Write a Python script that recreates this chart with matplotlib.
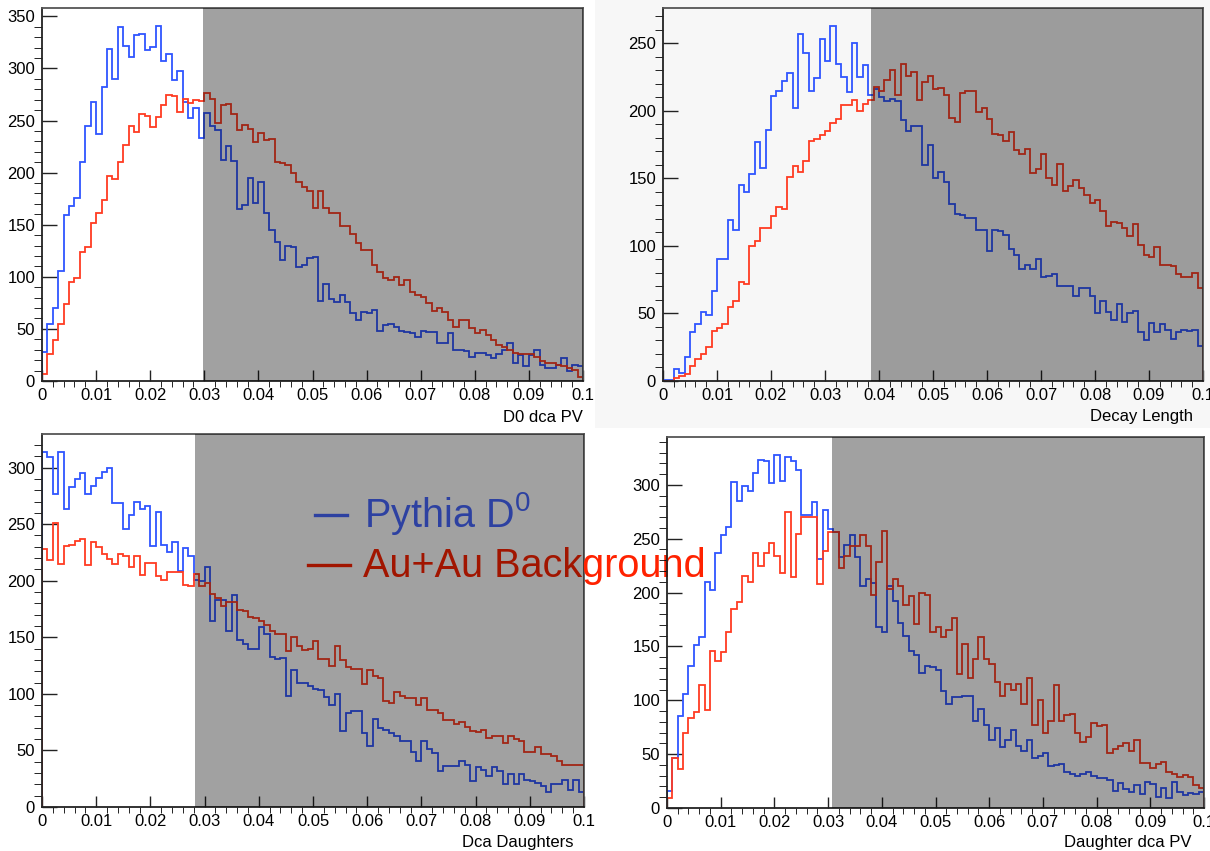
import numpy as np
import matplotlib
matplotlib.use("Agg")
import matplotlib.pyplot as plt
from matplotlib.patches import Rectangle
from matplotlib.lines import Line2D
from matplotlib.ticker import MultipleLocator, FuncFormatter
import matplotlib.transforms as mtransforms

plt.rcParams['font.family'] = ['Liberation Sans', 'DejaVu Sans']

# 100 bins from 0 to 0.1 in every panel
bin_edges = np.linspace(0.0, 0.1, 101)

# --- D0 dca PV ---
dca_pv_pythia = [
    28, 55, 70, 106, 159, 168, 176, 210, 245, 268,
    237, 282, 319, 290, 340, 322, 311, 332, 333, 318,
    321, 341, 307, 314, 289, 298, 268, 252, 262, 233,
    257, 245, 241, 212, 226, 211, 165, 169, 195, 171,
    191, 161, 145, 133, 116, 130, 129, 109, 111, 118,
    119, 77, 93, 79, 76, 83, 76, 65, 59, 66,
    65, 68, 48, 54, 55, 52, 48, 47, 46, 42,
    48, 47, 47, 36, 36, 46, 30, 30, 29, 23,
    27, 27, 25, 22, 26, 30, 36, 17, 25, 14,
    25, 30, 15, 12, 12, 15, 22, 10, 15, 14]
dca_pv_auau = [
    7, 26, 39, 55, 74, 95, 99, 124, 129, 152,
    161, 174, 197, 194, 210, 227, 245, 239, 256, 254,
    244, 253, 265, 275, 274, 258, 271, 267, 270, 269,
    276, 271, 248, 265, 266, 256, 241, 246, 242, 229,
    238, 231, 232, 210, 209, 207, 200, 191, 186, 182,
    166, 182, 166, 161, 161, 149, 149, 141, 132, 126,
    126, 111, 105, 99, 97, 100, 92, 97, 85, 83,
    81, 75, 67, 70, 66, 59, 52, 59, 59, 51,
    46, 49, 44, 39, 35, 33, 30, 27, 26, 26,
    26, 23, 19, 17, 17, 15, 14, 12, 11, 4]

# --- Decay Length ---
decay_pythia = [
    1, 1, 9, 6, 18, 36, 42, 51, 49, 67,
    90, 90, 119, 112, 145, 140, 153, 177, 158, 186,
    211, 215, 222, 228, 202, 257, 243, 215, 224, 253,
    237, 263, 235, 225, 214, 250, 225, 234, 212, 216,
    210, 207, 209, 207, 193, 185, 189, 189, 160, 175,
    150, 155, 147, 131, 124, 123, 121, 121, 112, 112,
    96, 112, 111, 108, 98, 93, 83, 86, 83, 90,
    77, 78, 79, 70, 70, 70, 63, 69, 69, 63,
    50, 59, 51, 45, 57, 44, 50, 52, 36, 30,
    43, 36, 42, 38, 31, 36, 38, 37, 38, 26]
decay_auau = [
    0, 0, 2, 4, 5, 11, 16, 20, 25, 37,
    39, 42, 55, 59, 73, 72, 100, 104, 113, 113,
    122, 129, 127, 151, 159, 155, 163, 178, 179, 182,
    185, 191, 194, 204, 204, 208, 200, 205, 208, 218,
    215, 223, 230, 212, 235, 226, 229, 208, 221, 226,
    216, 217, 212, 195, 192, 213, 215, 215, 199, 202,
    194, 183, 182, 178, 184, 171, 168, 172, 154, 157,
    168, 150, 145, 161, 141, 144, 149, 143, 138, 132,
    134, 126, 115, 118, 117, 113, 107, 116, 101, 93,
    92, 99, 86, 86, 85, 79, 77, 77, 80, 69]

# --- Dca Daughters ---
dca_dau_pythia = [
    314, 309, 277, 314, 263, 283, 290, 295, 277, 284,
    291, 296, 300, 269, 269, 246, 258, 270, 263, 266,
    231, 261, 232, 225, 234, 209, 229, 222, 201, 200,
    212, 164, 183, 183, 156, 187, 148, 144, 140, 140,
    159, 153, 133, 131, 132, 98, 121, 110, 110, 107,
    104, 103, 97, 90, 100, 67, 83, 85, 85, 65,
    54, 78, 70, 68, 65, 63, 58, 58, 49, 41,
    58, 51, 48, 32, 36, 36, 36, 41, 37, 23,
    35, 33, 27, 35, 32, 20, 29, 20, 29, 24,
    23, 21, 19, 13, 20, 20, 24, 15, 24, 13]
dca_dau_auau = [
    228, 218, 251, 215, 231, 232, 235, 237, 214, 234,
    230, 224, 219, 215, 224, 222, 212, 222, 205, 216,
    216, 204, 201, 208, 208, 208, 196, 195, 206, 195,
    198, 188, 185, 178, 181, 181, 174, 173, 168, 167,
    164, 161, 156, 153, 153, 138, 150, 142, 139, 140,
    147, 131, 131, 125, 142, 130, 124, 122, 122, 109,
    121, 116, 114, 94, 92, 102, 98, 96, 96, 90,
    96, 86, 86, 83, 77, 77, 73, 75, 71, 67,
    66, 68, 61, 63, 63, 57, 63, 60, 58, 49,
    49, 53, 47, 47, 45, 41, 37, 37, 37, 37]

# --- Daughter dca PV ---
dau_pv_pythia = [
    16, 46, 85, 106, 132, 151, 159, 210, 202, 237,
    253, 261, 303, 285, 299, 294, 311, 323, 322, 302,
    328, 304, 326, 322, 314, 272, 272, 284, 231, 277,
    259, 256, 233, 244, 253, 233, 206, 213, 209, 168,
    163, 206, 192, 172, 160, 146, 142, 125, 132, 131,
    128, 109, 97, 103, 103, 104, 104, 81, 92, 77,
    63, 74, 57, 63, 72, 58, 53, 63, 46, 48,
    51, 39, 40, 41, 33, 32, 30, 32, 33, 30,
    28, 28, 26, 16, 23, 18, 15, 21, 13, 24,
    22, 10, 19, 9, 24, 15, 12, 14, 13, 15]
dau_pv_auau = [
    9, 46, 36, 70, 84, 89, 114, 91, 146, 136,
    145, 163, 185, 191, 215, 210, 237, 225, 237, 246,
    234, 218, 275, 214, 254, 270, 270, 270, 208, 239,
    256, 256, 223, 234, 243, 243, 253, 243, 198, 228,
    257, 203, 213, 206, 188, 197, 171, 200, 198, 163,
    168, 159, 165, 176, 124, 152, 121, 138, 159, 138,
    134, 117, 104, 115, 110, 115, 97, 121, 77, 100,
    70, 81, 114, 81, 86, 87, 70, 61, 66, 79,
    76, 77, 51, 55, 58, 60, 53, 63, 42, 42,
    37, 41, 43, 33, 32, 29, 31, 29, 21, 19]

panel_titles = ['D0 dca PV', 'Decay Length', 'Dca Daughters', 'Daughter dca PV']
cut_values = [0.0297, 0.0385, 0.0283, 0.0307]
pythia_sets = [dca_pv_pythia, decay_pythia, dca_dau_pythia, dau_pv_pythia]
auau_sets = [dca_pv_auau, decay_auau, dca_dau_auau, dau_pv_auau]

legend_labels = [r'Pythia D$^\mathregular{0}$', 'Au+Au Background']

BLUE = '#2f55ff'
RED = '#ff3b22'

W, H = 1210, 851
fig = plt.figure(figsize=(W / 100, H / 100), dpi=100)


def fbox(l, t, r, b):
    return [l / W, 1 - b / H, (r - l) / W, (b - t) / H]


# pixel boxes of the four frames (left, top, right, bottom)
boxes = [(42, 8, 583, 381), (663, 8, 1203, 381),
         (42, 434, 584, 807), (667, 437, 1204, 808)]
label_pos = [(583, 418), (1193, 417), (573, 843), (1192, 843)]

# light grey pad behind the top right panel
fig.patches.append(Rectangle((595 / W, 1 - 428 / H), (W - 595) / W, 428 / H,
                             transform=fig.transFigure, facecolor='#f7f7f7',
                             edgecolor='none', zorder=-1))

axes = []
for i in range(4):
    ax = fig.add_axes(fbox(*boxes[i]))
    axes.append(ax)
    if i == 1:
        ax.set_facecolor('#f7f7f7')
    elif i == 3:
        ax.set_facecolor('none')

    sig = np.array(pythia_sets[i])
    bkg = np.array(auau_sets[i])
    ax.stairs(sig, bin_edges, baseline=0, color=BLUE, lw=1.3, zorder=2)
    ax.stairs(bkg, bin_edges, baseline=0, color=RED, lw=1.3, zorder=2)

    ax.set_xlim(0, 0.1)
    ax.set_ylim(0, 1.05 * max(sig.max(), bkg.max()))

    # rejected region, darkened
    trans = mtransforms.blended_transform_factory(ax.transData, ax.transAxes)
    ax.add_patch(Rectangle((cut_values[i], 0), 0.1 - cut_values[i], 1.0,
                           transform=trans, facecolor='black', alpha=0.37,
                           edgecolor='none', zorder=5, clip_on=False))

    ax.xaxis.set_major_locator(MultipleLocator(0.01))
    ax.xaxis.set_minor_locator(MultipleLocator(0.002))
    ax.yaxis.set_major_locator(MultipleLocator(50))
    ax.yaxis.set_minor_locator(MultipleLocator(10))
    ax.xaxis.set_major_formatter(FuncFormatter(
        lambda v, p: '0' if abs(v) < 1e-9 else ('%.2f' % v).rstrip('0')))
    ax.yaxis.set_major_formatter(FuncFormatter(lambda v, p: '%d' % round(v)))

    ax.tick_params(direction='in', colors='#222222', labelsize=12,
                   labelcolor='black', width=1.0, pad=5)
    ax.tick_params(axis='y', which='major', length=11)
    ax.tick_params(axis='y', which='minor', length=6)
    ax.tick_params(axis='x', which='major', length=8)
    ax.tick_params(axis='x', which='minor', length=4.5)

    for side in ['left', 'bottom']:
        ax.spines[side].set_color('#222222')
        ax.spines[side].set_linewidth(1.3)
    for side in ['top', 'right']:
        ax.spines[side].set_color('#555555')
        ax.spines[side].set_linewidth(1.3)

    lx, ly = label_pos[i]
    fig.text(lx / W, 1 - ly / H, panel_titles[i], ha='right', va='center',
             fontsize=12)

# big legend written over the lower left panel
ax3 = axes[2]
ax3.add_line(Line2D([315 / W, 347 / W], [1 - 515 / H, 1 - 515 / H],
                    transform=fig.transFigure, color='#4868ff', lw=2.4,
                    zorder=4, clip_on=False))
ax3.add_line(Line2D([308 / W, 350 / W], [1 - 565 / H, 1 - 565 / H],
                    transform=fig.transFigure, color='#ff2200', lw=2.4,
                    zorder=4, clip_on=False))
ax3.text(364 / W, 1 - 527 / H, legend_labels[0], transform=fig.transFigure,
         color='#4868ff', fontsize=28.5, ha='left', va='baseline',
         zorder=4, clip_on=False)
ax3.text(363 / W, 1 - 577 / H, legend_labels[1], transform=fig.transFigure,
         color='#ff2200', fontsize=28.5, ha='left', va='baseline',
         zorder=4, clip_on=False)

fig.savefig('out.png', dpi=100, facecolor='white')
